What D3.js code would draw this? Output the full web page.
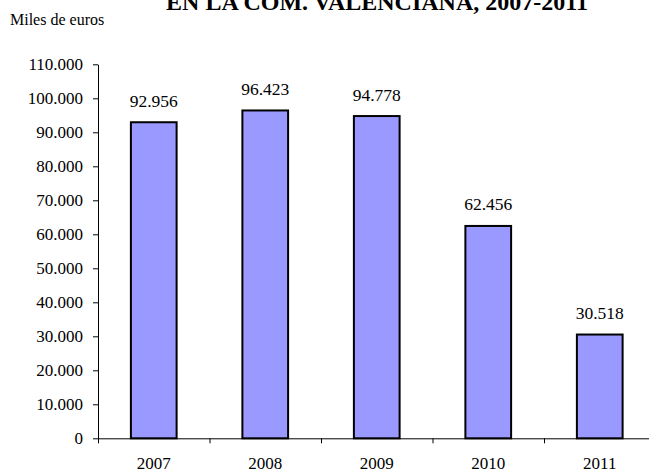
<!DOCTYPE html>
<html lang="en">
<head>
  <meta charset="UTF-8" />
  <title>Miles de euros 2007-2011</title>
  <style>
    body { margin: 0; background: #fff; }
    svg text { font-family: "Liberation Serif", "Times New Roman", serif; fill: #000; }
    .domain, .tick line { stroke: #000; stroke-width: 1px; }
  </style>
</head>
<body>
  <div id="chart"></div>

  <script src="https://d3js.org/d3.v7.min.js"></script>
  <script>
    // Data
    const years = ["2007", "2008", "2009", "2010", "2011"];
    const values = [92956, 96423, 94778, 62456, 30518];
    const yTicks = [0, 10000, 20000, 30000, 40000, 50000, 60000, 70000, 80000, 90000, 100000, 110000];

    const width = 649, height = 472;
    // plot area; it runs past the right edge, as in the original
    const plotLeft = 98, plotRight = 655.5;
    const plotTop = 64.3, plotBottom = 438.3;
    const serif = '"Liberation Serif", "Times New Roman", serif';

    // Spanish number format: 110.000
    const es = d3.formatLocale({ decimal: ",", thousands: ".", grouping: [3], currency: ["", " €"] });
    const fmt = es.format(",");

    const svg = d3.select("#chart")
      .append("svg")
      .attr("width", width)
      .attr("height", height)
      .attr("font-family", serif);

    const x = d3.scaleBand()
      .domain(years)
      .range([plotLeft, plotRight])
      .paddingInner(0.59)
      .paddingOuter(0.295);

    const y = d3.scaleLinear()
      .domain([0, 110000])
      .range([plotBottom, plotTop]);

    // Title (first line is cut off at the top, as in the original)
    svg.append("text")
      .attr("x", 377)
      .attr("y", 10)
      .attr("text-anchor", "middle")
      .style("font-size", "24px")
      .style("font-weight", "bold")
      .text("EN LA COM. VALENCIANA, 2007-2011");

    // Unit label
    svg.append("text")
      .attr("x", 10)
      .attr("y", 25)
      .style("font-size", "16px")
      .text("Miles de euros");

    // Y axis
    const yAxis = svg.append("g")
      .attr("transform", `translate(${plotLeft},0)`)
      .call(d3.axisLeft(y).tickValues(yTicks).tickFormat(fmt).tickSize(5).tickSizeOuter(0).tickPadding(10));
    yAxis.attr("font-family", serif);
    yAxis.selectAll("text").style("font-size", "17px");

    // Bars
    svg.selectAll("rect.bar")
      .data(values)
      .enter()
      .append("rect")
      .attr("class", "bar")
      .attr("x", (d, i) => x(years[i]))
      .attr("y", d => y(d))
      .attr("width", x.bandwidth())
      .attr("height", d => y(0) - y(d))
      .attr("fill", "#9999ff")
      .attr("stroke", "#000")
      .attr("stroke-width", 2);

    // Value labels
    svg.selectAll("text.val")
      .data(values)
      .enter()
      .append("text")
      .attr("class", "val")
      .attr("x", (d, i) => x(years[i]) + x.bandwidth() / 2)
      .attr("y", d => y(d) - 15.5)
      .attr("text-anchor", "middle")
      .style("font-size", "17.5px")
      .text(d => fmt(d));

    // X axis: ticks between categories
    const xEdges = d3.scaleLinear().domain([0, years.length]).range([plotLeft, plotRight]);
    svg.append("g")
      .attr("transform", `translate(0,${plotBottom})`)
      .call(d3.axisBottom(xEdges).tickValues(d3.range(years.length + 1)).tickFormat("").tickSize(5).tickSizeOuter(0));

    // Category labels
    svg.selectAll("text.cat")
      .data(years)
      .enter()
      .append("text")
      .attr("class", "cat")
      .attr("x", d => x(d) + x.bandwidth() / 2)
      .attr("y", 469)
      .attr("text-anchor", "middle")
      .style("font-size", "17px")
      .text(d => d);
  </script>
</body>
</html>
